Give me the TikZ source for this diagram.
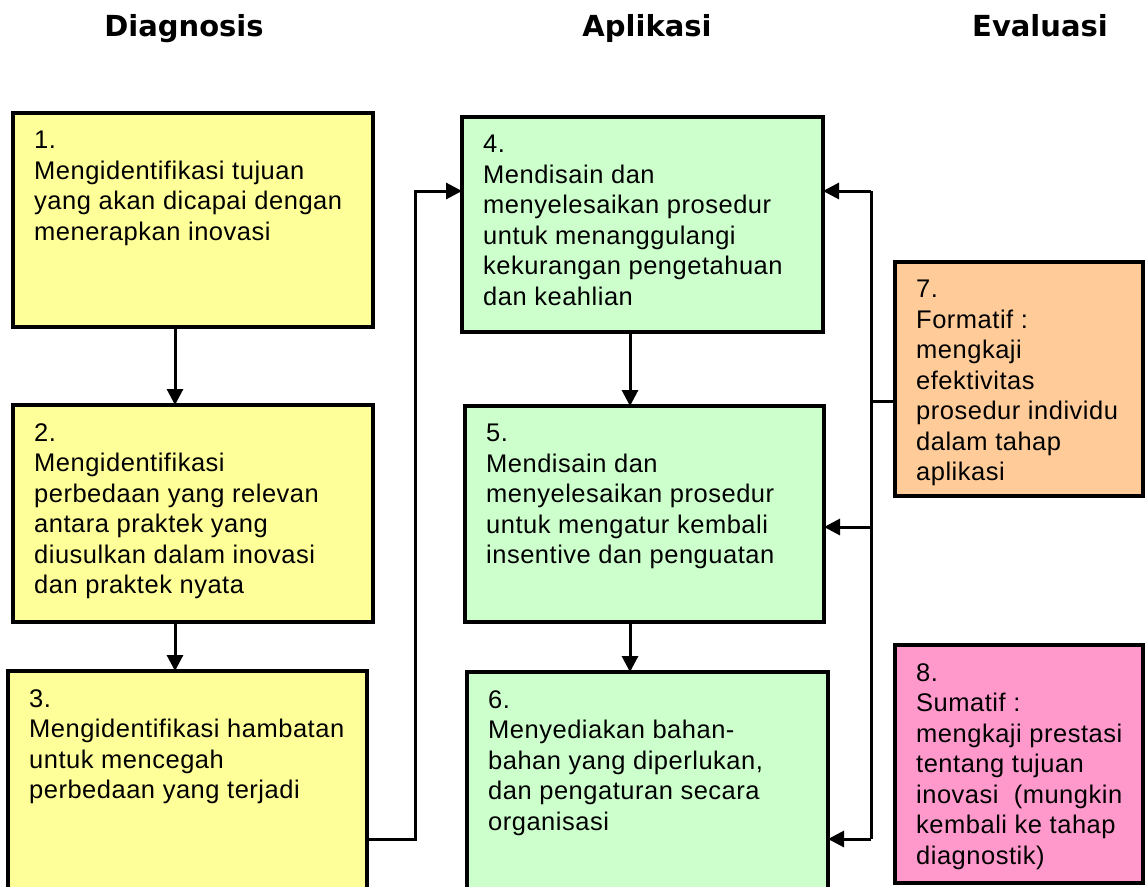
\documentclass[tikz,border=0pt]{standalone}
\usepackage{fontspec}
\setmainfont{Liberation Sans}[LetterSpace=2]
\newfontfamily\headfnt{DejaVu Sans}
\usetikzlibrary{arrows.meta,calc}
\definecolor{yel}{HTML}{FFFF99}
\definecolor{grn}{HTML}{CCFFCC}
\definecolor{org}{HTML}{FFCC99}
\definecolor{pnk}{HTML}{FF99CC}
\newcommand\bodyfnt{\fontsize{25.5}{30.5}\selectfont}
\begin{document}
\begin{tikzpicture}[x=1pt,y=-1pt,
  box/.style={draw=black,line width=3.2pt,rectangle,anchor=north west,inner sep=0pt,outer sep=0pt},
  txt/.style={anchor=north west,align=left,inner sep=0pt,font=\bodyfnt},
  head/.style={font=\headfnt\bfseries\fontsize{29}{34}\selectfont,anchor=base},
  conn/.style={line width=3pt,-{Triangle[length=16pt,width=16pt]}},
  link/.style={line width=3pt}]
\useasboundingbox (0,0) rectangle (1145,886);
% headers
\node[head] (h1) at (184,36) {Diagnosis};
\node[head] (h2) at (647,36) {Aplikasi};
\node[head] (h3) at (1040,36) {Evaluasi};
% boxes
\node[box,fill=yel,minimum width=360pt,minimum height=214pt] (b1) at (13,113) {};
\node[box,fill=yel,minimum width=360pt,minimum height=217pt] (b2) at (13,405) {};
\node[box,fill=yel,minimum width=359pt,minimum height=225pt] (b3) at (8,671) {};
\node[box,fill=grn,minimum width=361pt,minimum height=215pt] (b4) at (462,117) {};
\node[box,fill=grn,minimum width=359pt,minimum height=216pt] (b5) at (465,406) {};
\node[box,fill=grn,minimum width=361pt,minimum height=225pt] (b6) at (467,672) {};
\node[box,fill=org,minimum width=248pt,minimum height=234pt] (b7) at (895,262) {};
\node[box,fill=pnk,minimum width=248pt,minimum height=238pt] (b8) at (895,645) {};
% texts
\node[txt] (t1) at ($(b1.north west)+(21,18)$) {1.\\Mengidentifikasi tujuan\\yang akan dicapai dengan\\menerapkan inovasi};
\node[txt] (t2) at ($(b2.north west)+(21,18)$) {2.\\Mengidentifikasi\\perbedaan yang relevan\\antara praktek yang\\diusulkan dalam inovasi\\dan praktek nyata};
\node[txt] (t3) at ($(b3.north west)+(21,18)$) {3.\\Mengidentifikasi hambatan\\untuk mencegah\\perbedaan yang terjadi};
\node[txt] (t4) at ($(b4.north west)+(21,18)$) {4.\\Mendisain dan\\menyelesaikan prosedur\\untuk menanggulangi\\kekurangan pengetahuan\\dan keahlian};
\node[txt] (t5) at ($(b5.north west)+(21,18)$) {5.\\Mendisain dan\\menyelesaikan prosedur\\untuk mengatur kembali\\insentive dan penguatan};
\node[txt] (t6) at ($(b6.north west)+(21,18)$) {6.\\Menyediakan bahan-\\bahan yang diperlukan,\\dan pengaturan secara\\organisasi};
\node[txt] (t7) at ($(b7.north west)+(21,18)$) {7.\\Formatif :\\mengkaji\\efektivitas\\prosedur individu\\dalam tahap\\aplikasi};
\node[txt] (t8) at ($(b8.north west)+(21,18)$) {8.\\Sumatif :\\mengkaji prestasi\\tentang tujuan\\inovasi\ \ (mungkin\\kembali ke tahap\\diagnostik)};
% vertical arrows
\coordinate (ax) at (175,0);
\coordinate (bx) at (630,0);
\draw[conn] (b1.south -| ax) -- (b2.north -| ax);
\draw[conn] (b2.south -| ax) -- (b3.north -| ax);
\draw[conn] (b4.south -| bx) -- (b5.north -| bx);
\draw[conn] (b5.south -| bx) -- (b6.north -| bx);
% 3 -> 4
\coordinate (r3) at (415,839);
\coordinate (r4) at (415,191);
\draw[conn] (b3.east |- r3) -- (r3) -- (r4) -- (b4.west |- r4);
% evaluation feedback
\coordinate (q4) at (871,191);
\coordinate (q5) at (871,527);
\coordinate (q6) at (871,839);
\coordinate (q7) at (871,401);
\draw[link] (q4) -- (q6);
\draw[conn] (q4) -- (b4.east |- q4);
\draw[conn] (q5) -- (b5.east |- q5);
\draw[conn] (q6) -- (b6.east |- q6);
\draw[link] (b7.west |- q7) -- (q7);
\end{tikzpicture}
\end{document}
